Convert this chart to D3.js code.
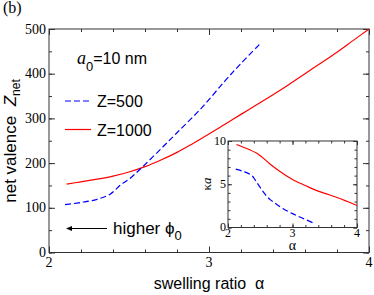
<!DOCTYPE html>
<html><head><meta charset="utf-8">
<script src="https://cdn.jsdelivr.net/npm/d3@7"></script>
<style>body{margin:0;background:#fff}svg{display:block}text{white-space:pre}</style>
</head><body>
<svg id="c" width="374" height="295"></svg>
<script>
// ---- data ----
const alphaZ1000 = [2.11,2.2,2.3,2.4,2.5,2.6,2.7,2.8,2.9,3.0,3.1,3.2,3.3,3.4,3.5,3.6,3.7,3.8,3.9,4.0];
const zZ1000     = [153,158,164,171,180,192,207,224,244,265,287,309,331,353,376,400,424,448,474,500];
const alphaZ500  = [2.1,2.2,2.3,2.38,2.45,2.5,2.58,2.7,2.8,2.95,3.1,3.2,3.32];
const zZ500      = [107,112,119,130,152,164,190,232,268,322,384,423,467];
const insetAlphaZ1000 = [2.13,2.3,2.475,2.65,2.84,3.0,3.2,3.35,3.5,3.66,3.85,4.0];
const insetKaZ1000    = [9.6,9.1,8.45,7.35,6.3,5.55,4.85,4.35,3.95,3.55,3.0,2.55];
const insetAlphaZ500  = [2.12,2.25,2.37,2.42,2.475,2.53,2.58,2.65,2.73,2.85,3.0,3.15,3.33];
const insetKaZ500     = [6.75,6.45,6.0,5.5,4.9,4.3,3.8,3.25,2.8,2.2,1.6,1.1,0.5];
const xTicks = [2,3,4];
const yTicks = [0,100,200,300,400,500];
const insetXTicks = [2,3,4];
const insetYTicks = [0,5,10];
const legendLabels = ["Z=500","Z=1000"];

const svg = d3.select("#c");
const serif = "'Liberation Serif','Times New Roman',serif";
const sans = "'Liberation Sans',Arial,Helvetica,sans-serif";
const frameCol = "#333";

function frame(g, x, y, major, minor, fs, xMajor, yMajor, xMinor, yMinor, labelOffX, labelOffY) {
  const [x0,x1] = x.range(), [y0,y1] = y.range();
  g.append("rect").attr("x",x0).attr("y",y1).attr("width",x1-x0).attr("height",y0-y1)
    .attr("fill","#fff").attr("stroke",frameCol).attr("stroke-width",1);
  const mk = (axisFn, scale, vals, size, tx, ty) => {
    const a = g.append("g").attr("transform",`translate(${tx},${ty})`)
      .call(axisFn(scale).tickValues(vals).tickSize(-size).tickFormat(""));
    a.select(".domain").remove();
    a.selectAll("line").attr("stroke",frameCol);
  };
  mk(d3.axisBottom, x, xMinor, minor, 0, y0);
  mk(d3.axisBottom, x, xMajor, major, 0, y0);
  mk(d3.axisTop, x, xMinor, minor, 0, y1);
  mk(d3.axisTop, x, xMajor, major, 0, y1);
  mk(d3.axisLeft, y, yMinor, minor, x0, 0);
  mk(d3.axisLeft, y, yMajor, major, x0, 0);
  mk(d3.axisRight, y, yMinor, minor, x1, 0);
  mk(d3.axisRight, y, yMajor, major, x1, 0);
  g.selectAll(".xl").data(xMajor).join("text").attr("x",d=>x(d)).attr("y",y0+labelOffY)
    .attr("text-anchor","middle").attr("font-family",serif).attr("font-size",fs).text(d=>d);
  g.selectAll(".yl").data(yMajor).join("text").attr("x",x0-labelOffX).attr("y",d=>y(d)+fs*0.33)
    .attr("text-anchor","end").attr("font-family",serif).attr("font-size",fs).text(d=>d);
}

// ---- main plot ----
const x = d3.scaleLinear().domain([2,4]).range([49,369]);
const y = d3.scaleLinear().domain([0,500]).range([252.5,29]);
const main = svg.append("g");
const rng = (a,b,s)=>d3.range(a,b+1e-9,s).map(v=>+v.toFixed(3));
frame(main, x, y, 6, 3, 14, xTicks, yTicks, rng(2,4,0.2), rng(0,500,50), 3, 14);

const line = (xs, ys, sx, sy) => d3.line().curve(d3.curveCatmullRom.alpha(0.5))
  .x((d,i)=>sx(xs[i])).y((d,i)=>sy(ys[i]))(xs);
main.append("path").attr("d",line(alphaZ1000,zZ1000,x,y)).attr("fill","none")
  .attr("stroke","#ff0000").attr("stroke-width",1.2);
main.append("path").attr("d",line(alphaZ500,zZ500,x,y)).attr("fill","none")
  .attr("stroke","#0000ff").attr("stroke-width",1.2).attr("stroke-dasharray","6,3");

// legend
main.append("line").attr("x1",65).attr("x2",91).attr("y1",101).attr("y2",101)
  .attr("stroke","#0000ff").attr("stroke-width",1.2).attr("stroke-dasharray","6,3");
main.append("line").attr("x1",65).attr("x2",91).attr("y1",129.5).attr("y2",129.5)
  .attr("stroke","#ff0000").attr("stroke-width",1.2);
main.append("text").attr("x",97).attr("y",107).attr("font-family",sans).attr("font-size",16).text(legendLabels[0]);
main.append("text").attr("x",97).attr("y",135.5).attr("font-family",sans).attr("font-size",16).text(legendLabels[1]);

// a0 = 10 nm
const t1 = main.append("text").attr("x",77).attr("y",64).attr("font-size",16).attr("font-family",sans);
t1.append("tspan").attr("font-family",serif).attr("font-style","italic").attr("font-size",18).text("a");
t1.append("tspan").attr("dy",7).attr("font-size",13).text("0");
t1.append("tspan").attr("dy",-7).text("=10 nm");

// higher phi0
main.append("line").attr("x1",107).attr("x2",68).attr("y1",228.5).attr("y2",228.5).attr("stroke","#000").attr("stroke-width",1);
main.append("path").attr("d","M66,228.5 L72,226 L72,231 Z").attr("fill","#000");
const t2 = main.append("text").attr("x",113).attr("y",233.5).attr("font-family",sans).attr("font-size",17);
t2.append("tspan").text("higher \u03d5");
t2.append("tspan").attr("dy",6).attr("font-size",13).text("0");

// axis titles
main.append("text").attr("x",209).attr("y",289).attr("text-anchor","middle")
  .attr("font-family",sans).attr("font-size",16).text("swelling ratio  \u03b1");
const yl = main.append("text").attr("transform","translate(16,141) rotate(-90)")
  .attr("text-anchor","middle").attr("font-family",sans).attr("font-size",17);
yl.append("tspan").text("net valence  ");
yl.append("tspan").attr("font-style","italic").text("Z");
yl.append("tspan").attr("dy",4).attr("font-size",12).text("net");

// (b)
svg.append("text").attr("x",3).attr("y",13).attr("font-family",serif).attr("font-size",16).text("(b)");

// ---- inset ----
const xi = d3.scaleLinear().domain([2,4]).range([228,357]);
const yi = d3.scaleLinear().domain([0,10]).range([227.5,141]);
const ins = svg.append("g");
frame(ins, xi, yi, 4, 2.5, 12, insetXTicks, insetYTicks, rng(2,4,0.2), rng(0,10,1), 2, 9);
ins.append("path").attr("d",line(insetAlphaZ1000,insetKaZ1000,xi,yi)).attr("fill","none")
  .attr("stroke","#ff0000").attr("stroke-width",1.2);
ins.append("path").attr("d",line(insetAlphaZ500,insetKaZ500,xi,yi)).attr("fill","none")
  .attr("stroke","#0000ff").attr("stroke-width",1.2).attr("stroke-dasharray","6,3");
ins.append("text").attr("x",292.5).attr("y",250).attr("text-anchor","middle")
  .attr("font-family",serif).attr("font-size",14).text("\u03b1");
const kl = ins.append("text").attr("transform","translate(211,184) rotate(-90)")
  .attr("text-anchor","middle").attr("font-family",serif).attr("font-size",13);
kl.append("tspan").text("\u03ba");
kl.append("tspan").attr("font-style","italic").text("a");
</script>
</body></html>
